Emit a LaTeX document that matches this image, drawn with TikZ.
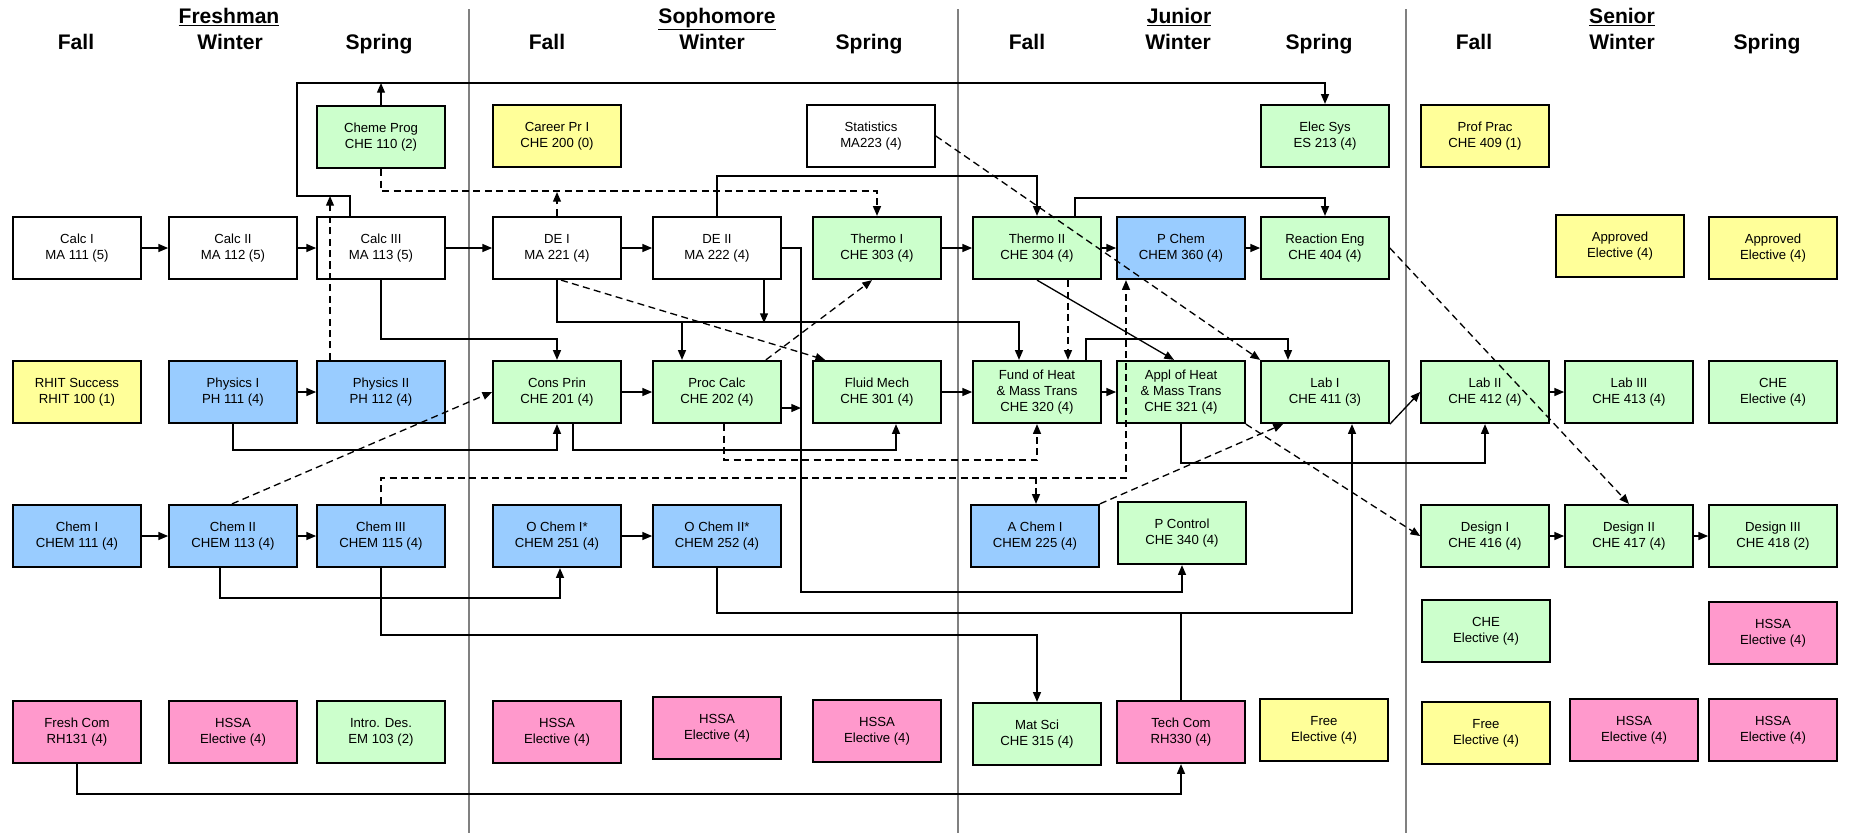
\documentclass[tikz,border=0pt]{standalone}
\usepackage{fontspec}
\setmainfont{Liberation Sans}
\usepackage{xcolor}
\usepackage{tikz}
\usetikzlibrary{arrows.meta,calc}
\definecolor{cheGreen}{HTML}{CCFFCC}
\definecolor{sciBlue}{HTML}{99CCFF}
\definecolor{genYellow}{HTML}{FFFF99}
\definecolor{humPink}{HTML}{FF99CC}
\tikzstyle{course} = [draw=black, line width=1pt, minimum width=2.56cm, minimum height=1.25cm, inner sep=1pt, align=center, font=\fontsize{7.5}{9}\selectfont]
\tikzstyle{mathbox} = [course, fill=white]
\tikzstyle{chebox} = [course, fill=cheGreen]
\tikzstyle{scibox} = [course, fill=sciBlue]
\tikzstyle{genbox} = [course, fill=genYellow]
\tikzstyle{humbox} = [course, fill=humPink]
\tikzstyle{arrow} = [line width=0.75pt, -{Triangle[length=5.5pt,width=4.5pt]}]
\tikzstyle{coreq} = [arrow, dash pattern=on 4pt off 2.5pt]
\tikzstyle{wire} = [line width=0.75pt]
\tikzstyle{yearline} = [draw=gray, line width=0.6pt]
\tikzstyle{headlabel} = [anchor=base, inner sep=0pt, font=\fontsize{12}{14}\selectfont\bfseries]

\begin{document}
\begin{tikzpicture}[x=0.02cm, y=-0.02cm]
\useasboundingbox (0,0) rectangle (1849,833);

% 学年分隔线
\foreach \x in {469,958,1406} {
    \draw[yearline] (\x,9) -- (\x,833);
}

% 学年与学期标题
\foreach \x/\yr in {229/Freshman, 717/Sophomore, 1179/Junior, 1622/Senior} {
    \node[headlabel] (year-\x) at (\x,23) {\underline{\yr}};
}
\foreach \x/\s in {76/Fall, 230/Winter, 379/Spring, 547/Fall, 712/Winter, 869/Spring,
                   1027/Fall, 1178/Winter, 1319/Spring, 1474/Fall, 1622/Winter, 1767/Spring} {
    \node[headlabel] (season-\x) at (\x,49) {\s};
}

% 第一行
\node[chebox] (cprog) at (381,137) {Cheme Prog\\CHE 110 (2)};
\node[genbox] (career) at (557,136) {Career Pr I\\CHE 200 (0)};
\node[mathbox] (stats) at (871,136) {Statistics\\MA223 (4)};
\node[chebox] (elec) at (1325,136) {Elec Sys\\ES 213 (4)};
\node[genbox] (profprac) at (1485,136) {Prof Prac\\CHE 409 (1)};

% 数学与热力学
\node[mathbox] (calc1) at (77,248) {Calc I\\MA 111 (5)};
\node[mathbox] (calc2) at (233,248) {Calc II\\MA 112 (5)};
\node[mathbox] (calc3) at (381,248) {Calc III\\MA 113 (5)};
\node[mathbox] (de1) at (557,248) {DE I\\MA 221 (4)};
\node[mathbox] (de2) at (717,248) {DE II\\MA 222 (4)};
\node[chebox] (thermo1) at (877,248) {Thermo I\\CHE 303 (4)};
\node[chebox] (thermo2) at (1037,248) {Thermo II\\CHE 304 (4)};
\node[scibox] (pchem) at (1181,248) {P Chem\\CHEM 360 (4)};
\node[chebox] (rxn) at (1325,248) {Reaction Eng\\CHE 404 (4)};
\node[genbox] (apprA) at (1620,246) {Approved\\Elective (4)};
\node[genbox] (apprB) at (1773,248) {Approved\\Elective (4)};

% 物理与化工核心
\node[genbox] (success) at (77,392) {RHIT Success\\RHIT 100 (1)};
\node[scibox] (phys1) at (233,392) {Physics I\\PH 111 (4)};
\node[scibox] (phys2) at (381,392) {Physics II\\PH 112 (4)};
\node[chebox] (cons) at (557,392) {Cons Prin\\CHE 201 (4)};
\node[chebox] (proc) at (717,392) {Proc Calc\\CHE 202 (4)};
\node[chebox] (fluid) at (877,392) {Fluid Mech\\CHE 301 (4)};
\node[chebox] (fund) at (1037,392) {Fund of Heat\\\& Mass Trans\\CHE 320 (4)};
\node[chebox] (appl) at (1181,392) {Appl of Heat\\\& Mass Trans\\CHE 321 (4)};
\node[chebox] (lab1) at (1325,392) {Lab I\\CHE 411 (3)};
\node[chebox] (lab2) at (1485,392) {Lab II\\CHE 412 (4)};
\node[chebox] (lab3) at (1629,392) {Lab III\\CHE 413 (4)};
\node[chebox] (cheelA) at (1773,392) {CHE\\Elective (4)};

% 化学与设计
\node[scibox] (chem1) at (77,536) {Chem I\\CHEM 111 (4)};
\node[scibox] (chem2) at (233,536) {Chem II\\CHEM 113 (4)};
\node[scibox] (chem3) at (381,536) {Chem III\\CHEM 115 (4)};
\node[scibox] (ochem1) at (557,536) {O Chem I*\\CHEM 251 (4)};
\node[scibox] (ochem2) at (717,536) {O Chem II*\\CHEM 252 (4)};
\node[scibox] (achem) at (1035,536) {A Chem I\\CHEM 225 (4)};
\node[chebox] (pcontrol) at (1182,533) {P Control\\CHE 340 (4)};
\node[chebox] (design1) at (1485,536) {Design I\\CHE 416 (4)};
\node[chebox] (design2) at (1629,536) {Design II\\CHE 417 (4)};
\node[chebox] (design3) at (1773,536) {Design III\\CHE 418 (2)};

% 选修
\node[chebox] (cheelB) at (1486,631) {CHE\\Elective (4)};
\node[humbox] (hssaE) at (1773,633) {HSSA\\Elective (4)};

% 最后一行
\node[humbox] (freshcom) at (77,732) {Fresh Com\\RH131 (4)};
\node[humbox] (hssa1) at (233,732) {HSSA\\Elective (4)};
\node[chebox] (introdes) at (381,732) {Intro. Des.\\EM 103 (2)};
\node[humbox] (hssa2) at (557,732) {HSSA\\Elective (4)};
\node[humbox] (hssa3) at (717,728) {HSSA\\Elective (4)};
\node[humbox] (hssa4) at (877,731) {HSSA\\Elective (4)};
\node[chebox] (matsci) at (1037,734) {Mat Sci\\CHE 315 (4)};
\node[humbox] (techcom) at (1181,732) {Tech Com\\RH330 (4)};
\node[genbox] (free1) at (1324,730) {Free\\Elective (4)};
\node[genbox] (free2) at (1486,733) {Free\\Elective (4)};
\node[humbox] (hssa5) at (1634,730) {HSSA\\Elective (4)};
\node[humbox] (hssa6) at (1773,730) {HSSA\\Elective (4)};

% 连线交汇点
\coordinate (topbus) at (381,83);
\coordinate (calcbus) at (330,196);
\coordinate (progbus) at (557,192);
\coordinate (debus) at (764,323);
\coordinate (procbus) at (801,408);
\coordinate (pcbus) at (801,592);
\coordinate (chembus) at (1036,477);
\coordinate (techbus) at (1181,613);

% 同行先修
\foreach \a/\b in {calc1/calc2, calc2/calc3, calc3/de1, de1/de2, thermo1/thermo2, thermo2/pchem,
                   pchem/rxn, phys1/phys2, cons/proc, fluid/fund, fund/appl, lab2/lab3,
                   chem1/chem2, chem2/chem3, ochem1/ochem2, design1/design2, design2/design3} {
    \draw[arrow] (\a) -- (\b);
}

% 实线先修
\draw[arrow] ($(calc3.north)+(-31,0)$) |- (297,196) |- (topbus) -| (elec.north);
\draw[arrow] (cprog.north) -- (topbus);
\draw[arrow] (de2.north) |- ($(thermo2.north)+(0,-40)$) -- (thermo2.north);
\draw[arrow] ($(thermo2.north)+(38,0)$) |- ($(rxn.north)+(0,-18)$) -- (rxn.north);
\draw[arrow] (de1.south) |- ($(fund.north)+(-18,-38)$) -- ($(fund.north)+(-18,0)$);
\draw[arrow] (de1.south) |- ($(proc.north)+(-35,-38)$) -- ($(proc.north)+(-35,0)$);
\draw[arrow] ($(de2.south)+(47,0)$) -- (debus);
\draw[arrow] (de2.east) -| (pcbus) -| (pcontrol.south);
\draw[arrow] ($(proc.east)+(0,16)$) -- (procbus);
\draw[arrow] (calc3.south) |- ($(cons.north)+(0,-21)$) -- (cons.north);
\draw[arrow] (phys1.south) |- ($(cons.south)+(0,26)$) -- (cons.south);
\draw[arrow] ($(cons.south)+(16,0)$) |- ($(fluid.south)+(19,26)$) -- ($(fluid.south)+(19,0)$);
\draw[arrow] (thermo2.south) -- ($(appl.north)+(-7,0)$);
\draw[arrow] ($(fund.north)+(49,0)$) |- ($(lab1.north)+(-37,-21)$) -- ($(lab1.north)+(-37,0)$);
\draw[arrow] (appl.south) |- ($(lab2.south)+(0,39)$) -- (lab2.south);
\draw[arrow] (ochem2.south) |- ($(lab1.south)+(27,189)$) -- ($(lab1.south)+(27,0)$);
\draw[wire] (techcom.north) -- (techbus);
\draw[arrow] (lab1.south east) -- (lab2.west);
\draw[arrow] ($(chem2.south)+(-13,0)$) |- ($(ochem1.south)+(3,30)$) -- ($(ochem1.south)+(3,0)$);
\draw[arrow] (chem3.south) |- ($(matsci.north)+(0,-67)$) -- (matsci.north);
\draw[arrow] (freshcom.south) |- ($(techcom.south)+(0,30)$) -- (techcom.south);

% 虚线 (可同修)
\draw[coreq] ($(phys2.north)+(-51,0)$) -- (calcbus);
\draw[coreq] (cprog.south) |- ($(thermo1.north)+(0,-25)$) -- (thermo1.north);
\draw[coreq] (de1.north) -- (progbus);
\draw[coreq] ($(proc.north east)+(-16,0)$) -- ($(thermo1.south)+(-5,0)$);
\draw[coreq] ($(de1.south)+(4,0)$) -- ($(fluid.north west)+(13,0)$);
\draw[coreq] ($(proc.south)+(7,0)$) |- ($(fund.south)+(0,36)$) -- (fund.south);
\draw[coreq] (chem3.north) |- ($(pchem.south)+(-55,198)$) -- ($(pchem.south)+(-55,0)$);
\draw[coreq] (chembus) -- ($(achem.north)+(1,0)$);
\draw[coreq] ($(thermo2.south)+(31,0)$) -- ($(fund.north)+(31,0)$);
\draw[coreq] (stats.east) -- (lab1.north west);
\draw[coreq] (appl.south east) -- (design1.west);
\draw[coreq] (achem.north east) -- ($(lab1.south)+(-42,0)$);
\draw[coreq] (rxn.east) -- (design2.north);
\draw[coreq] ($(chem2.north)+(-1,0)$) -- (cons.west);

\end{tikzpicture}
\end{document}
